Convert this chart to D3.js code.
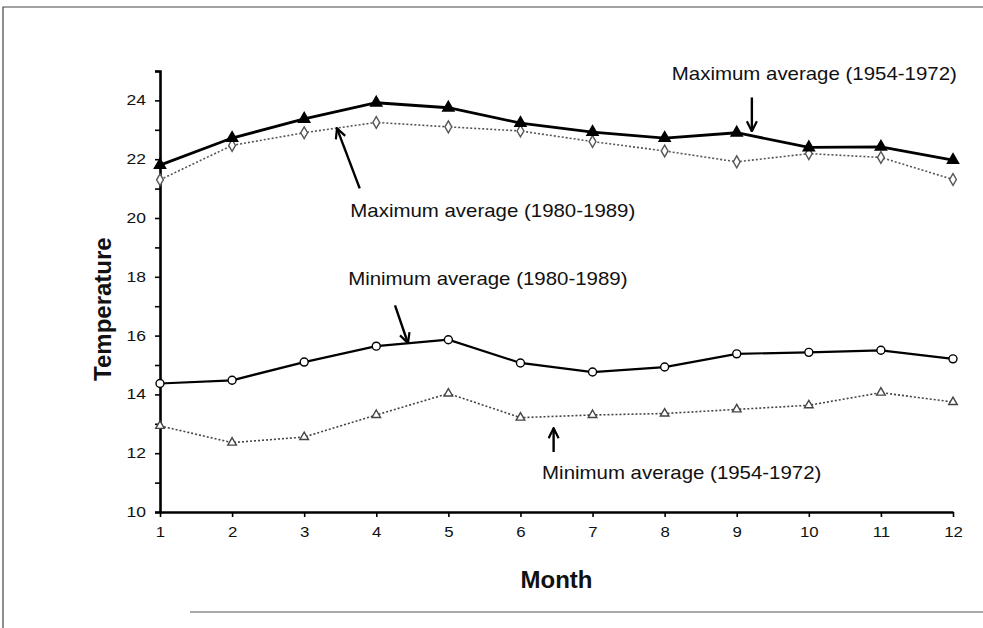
<!DOCTYPE html>
<html lang="en">
<head>
<meta charset="UTF-8">
<title>Temperature by month</title>
<script src="https://d3js.org/d3.v7.min.js"></script>
<style>
    body { margin: 0; background: #fff; }
    svg text { font-family: "Liberation Sans", Arial, Helvetica, sans-serif; fill: #111; }
</style>
</head>
<body>
<div id="chart"></div>
<script>
// data
const months = [1, 2, 3, 4, 5, 6, 7, 8, 9, 10, 11, 12];
const maxAvg5472 = [21.8, 22.72, 23.37, 23.92, 23.75, 23.23, 22.92, 22.72, 22.9, 22.4, 22.42, 21.97];
const maxAvg8089 = [21.3, 22.47, 22.9, 23.25, 23.1, 22.96, 22.6, 22.28, 21.91, 22.19, 22.06, 21.31];
const minAvg8089 = [14.37, 14.48, 15.1, 15.64, 15.86, 15.07, 14.76, 14.93, 15.38, 15.43, 15.5, 15.21];
const minAvg5472 = [12.93, 12.36, 12.55, 13.3, 14.03, 13.21, 13.3, 13.35, 13.49, 13.63, 14.06, 13.74];
const yTicks = d3.range(10, 26, 1);
const yLabels = [10, 12, 14, 16, 18, 20, 22, 24];

// annotations, in data units: label start + baseline, arrow tail -> head
const notes = [
    { text: "Maximum average (1954-1972)", tx: 8.10, ty: 24.71, x1: 9.21, y1: 24.1, x2: 9.21, y2: 22.95 },
    { text: "Maximum average (1980-1989)", tx: 3.64, ty: 20.02, x1: 3.77, y1: 21.01, x2: 3.455, y2: 23.05 },
    { text: "Minimum average (1980-1989)", tx: 3.61, ty: 17.71, x1: 4.26, y1: 17.03, x2: 4.44, y2: 15.74 },
    { text: "Minimum average (1954-1972)", tx: 6.30, ty: 11.12, x1: 6.46, y1: 12.04, x2: 6.46, y2: 12.85 }
];

const width = 983, height = 628;
const svg = d3.select("#chart").append("svg")
    .attr("width", width)
    .attr("height", height);

// frame round the figure
svg.append("path")
    .attr("d", "M3,628 V7 H983")
    .attr("fill", "none")
    .attr("stroke", "#444")
    .attr("stroke-width", 1.2);
svg.append("line")
    .attr("x1", 190).attr("x2", 983)
    .attr("y1", 612).attr("y2", 612)
    .attr("stroke", "#555")
    .attr("stroke-width", 1.2);

const x = d3.scaleLinear().domain([1, 12]).range([160, 953]);
const y = d3.scaleLinear().domain([10, 25]).range([512, 71]);

// stretch a text horizontally, the scan is wider than the font
function stretch(sel, k) {
    sel.each(function () {
        const w = this.getComputedTextLength();
        d3.select(this).attr("textLength", w * k).attr("lengthAdjust", "spacingAndGlyphs");
    });
}

// y axis
const yAxis = svg.append("g")
    .attr("transform", `translate(${x(1)},0)`)
    .call(d3.axisLeft(y).tickValues(yTicks).tickSize(5).tickFormat(d => yLabels.includes(d) ? d : ""));
yAxis.select(".domain").attr("stroke", "#000").attr("stroke-width", 2.6);
yAxis.selectAll(".tick line").attr("stroke", "#000").attr("stroke-width", 1.6);
yAxis.selectAll(".tick text")
    .attr("x", -14)
    .style("font-size", "14px")
    .call(stretch, 1.25);

// x axis
const xAxis = svg.append("g")
    .attr("transform", `translate(0,${y(10)})`)
    .call(d3.axisBottom(x).tickValues(months).tickSize(5).tickSizeOuter(0).tickFormat(d3.format("d")));
xAxis.select(".domain").attr("stroke", "#000").attr("stroke-width", 2.6);
xAxis.selectAll(".tick line").attr("stroke", "#000").attr("stroke-width", 1.6);
xAxis.selectAll(".tick text")
    .attr("y", 15)
    .style("font-size", "14px")
    .call(stretch, 1.2);

// axis titles
svg.append("text")
    .attr("x", x(6.5))
    .attr("y", 588)
    .attr("text-anchor", "middle")
    .style("font-size", "24px")
    .style("font-weight", "bold")
    .text("Month");
svg.append("text")
    .attr("transform", `translate(111,${y(16.9)}) rotate(-90)`)
    .attr("text-anchor", "middle")
    .style("font-size", "24px")
    .style("font-weight", "bold")
    .text("Temperature");

const line = d3.line().x((d, i) => x(months[i])).y(d => y(d));

const series = [
    { values: maxAvg8089, stroke: "#555", width: 1.6, dash: "2,2", symbol: d3.symbolDiamond, size: 40, fill: "#fff" },
    { values: minAvg5472, stroke: "#444", width: 1.6, dash: "2,2", symbol: d3.symbolTriangle, size: 32, fill: "#fff" },
    { values: maxAvg5472, stroke: "#000", width: 2.8, dash: null, symbol: d3.symbolTriangle, size: 55, fill: "#000" },
    { values: minAvg8089, stroke: "#000", width: 2.2, dash: null, symbol: d3.symbolCircle, size: 50, fill: "#fff" }
];

series.forEach(s => {
    svg.append("path")
        .datum(s.values)
        .attr("d", line)
        .attr("fill", "none")
        .attr("stroke", s.stroke)
        .attr("stroke-width", s.width)
        .attr("stroke-dasharray", s.dash);
    svg.append("g").selectAll("path")
        .data(s.values)
        .enter().append("path")
        .attr("transform", (d, i) => `translate(${x(months[i])},${y(d)})`)
        .attr("d", d3.symbol().type(s.symbol).size(s.size))
        .attr("fill", s.fill)
        .attr("stroke", s.stroke)
        .attr("stroke-width", 1.4);
});

// arrow heads
svg.append("defs").append("marker")
    .attr("id", "head")
    .attr("viewBox", "0 0 12 12")
    .attr("refX", 11).attr("refY", 6)
    .attr("markerWidth", 12).attr("markerHeight", 12)
    .attr("markerUnits", "userSpaceOnUse")
    .attr("orient", "auto")
    .append("path")
    .attr("d", "M1,1 L11,6 L1,11")
    .attr("fill", "none")
    .attr("stroke", "#000")
    .attr("stroke-width", 2.2);

const ann = svg.append("g");
ann.selectAll("line")
    .data(notes)
    .enter().append("line")
    .attr("x1", d => x(d.x1)).attr("y1", d => y(d.y1))
    .attr("x2", d => x(d.x2)).attr("y2", d => y(d.y2))
    .attr("stroke", "#000")
    .attr("stroke-width", 2.4)
    .attr("marker-end", "url(#head)");
ann.selectAll("text")
    .data(notes)
    .enter().append("text")
    .attr("x", d => x(d.tx))
    .attr("y", d => y(d.ty))
    .style("font-size", "19px")
    .text(d => d.text)
    .call(stretch, 1.075);
</script>
</body>
</html>
